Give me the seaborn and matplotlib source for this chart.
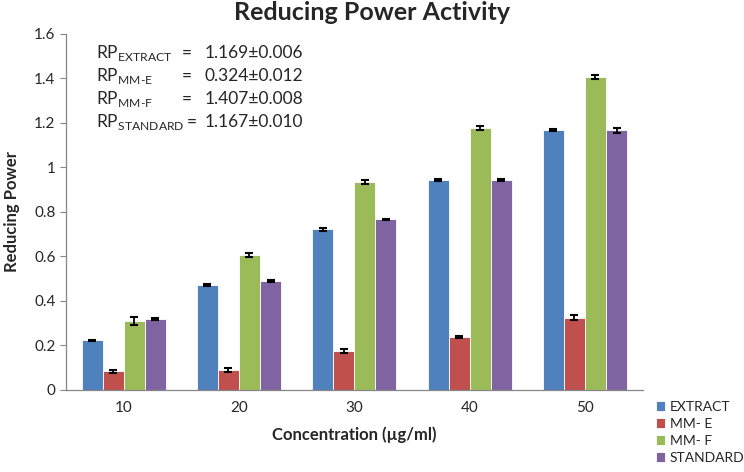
import matplotlib
matplotlib.use("Agg")
import matplotlib.pyplot as plt
import pandas as pd
import seaborn as sns

# Data
concentrations = ["10", "20", "30", "40", "50"]
series = ["EXTRACT", "MM- E", "MM- F", "STANDARD"]
extract = [0.222, 0.472, 0.722, 0.943, 1.169]
mm_e = [0.083, 0.090, 0.176, 0.238, 0.324]
mm_f = [0.310, 0.607, 0.935, 1.178, 1.407]
standard = [0.317, 0.489, 0.767, 0.943, 1.167]
extract_err = [0.004, 0.003, 0.006, 0.003, 0.006]
mm_e_err = [0.008, 0.008, 0.010, 0.004, 0.012]
mm_f_err = [0.018, 0.008, 0.010, 0.010, 0.008]
standard_err = [0.004, 0.003, 0.003, 0.003, 0.010]
colors = ["#4F81BD", "#C0504D", "#9BBB59", "#8064A2"]
rp_labels = ["EXTRACT", "MM-E", "MM-F", "STANDARD"]
rp_values = ["1.169\u00b10.006", "0.324\u00b10.012", "1.407\u00b10.008", "1.167\u00b10.010"]

values = [extract, mm_e, mm_f, standard]
errors = [extract_err, mm_e_err, mm_f_err, standard_err]
df = pd.DataFrame({
    "conc": concentrations * len(series),
    "series": [s for s in series for _ in concentrations],
    "value": [v for vals in values for v in vals],
})

sns.set_style("white")
plt.rcParams["font.family"] = ["Lato", "DejaVu Sans"]
plt.rcParams["mathtext.fontset"] = "custom"
plt.rcParams["mathtext.rm"] = "Lato"

fig = plt.figure(figsize=(7.44, 4.72), dpi=100)
ax = fig.add_axes([0.0887, 0.174, 0.775, 0.754])
sns.barplot(data=df, x="conc", y="value", hue="series", order=concentrations,
            hue_order=series, palette=colors, saturation=1, width=0.73,
            linewidth=0.6, edgecolor="white", ax=ax, legend=True)

# error bars on each bar
for cont, errs in zip(ax.containers, errors):
    xs = [p.get_x() + p.get_width() / 2 for p in cont.patches]
    hs = [p.get_height() for p in cont.patches]
    ax.errorbar(xs, hs, yerr=errs, fmt="none", ecolor="black", elinewidth=1.3,
                capsize=3, capthick=1.5)

ax.set_ylim(0, 1.6)
ax.set_xlim(-0.5, 4.5)
ax.set_yticks([0, 0.2, 0.4, 0.6, 0.8, 1.0, 1.2, 1.4, 1.6])
ax.set_yticklabels(["0", "0.2", "0.4", "0.6", "0.8", "1", "1.2", "1.4", "1.6"])
ax.tick_params(axis="y", length=4, width=0.8, color="#868686", labelsize=11, direction="out", left=True)
ax.tick_params(axis="x", length=0, labelsize=11, pad=8)
for s in ["top", "right"]:
    ax.spines[s].set_visible(False)
for s in ["left", "bottom"]:
    ax.spines[s].set_color("#868686")
    ax.spines[s].set_linewidth(0.9)

ax.set_xlabel("Concentration (\u00b5g/ml)", fontsize=12, fontweight="bold", labelpad=8)
ax.set_ylabel("Reducing Power", fontsize=12, fontweight="bold", labelpad=10)
fig.suptitle("Reducing Power Activity", fontsize=18, fontweight="bold", x=0.5, y=0.998)

# RP annotation block
for i, (lab, val) in enumerate(zip(rp_labels, rp_values)):
    y = 1.515 - i * 0.103
    sub = lab.replace("-", "\u2010")
    ax.text(-0.24, y, r"RP$_{\mathrm{%s}}$" % sub, fontsize=12.5, va="center")
    eq_x = 0.55 if lab == "STANDARD" else 0.5
    ax.text(eq_x, y, "=", fontsize=12.5, va="center")
    ax.text(0.7, y, val, fontsize=12.5, va="center")

h, l = ax.get_legend_handles_labels()
ax.legend(h, l, loc="upper left", bbox_to_anchor=(0.872, 0.165), bbox_transform=fig.transFigure,
          frameon=False, fontsize=10, handlelength=0.7, handleheight=0.7,
          handletextpad=0.3, labelspacing=0.35, borderpad=0)

fig.savefig("out.png", dpi=100)
